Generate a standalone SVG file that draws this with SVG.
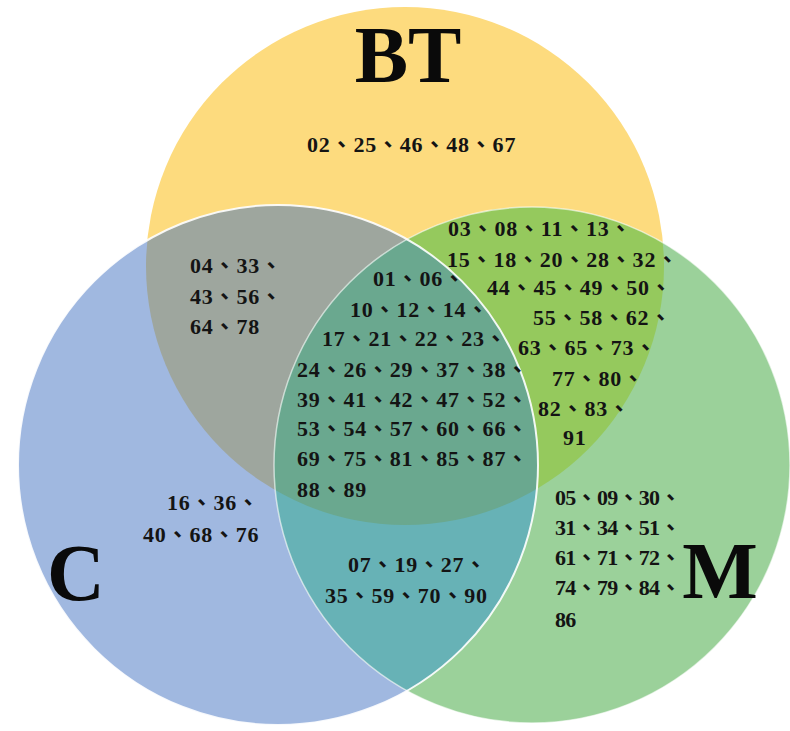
<svg xmlns="http://www.w3.org/2000/svg" width="790" height="731" viewBox="0 0 790 731">
<style>
.n{font-family:"Liberation Serif","Noto Sans CJK TC",serif;font-weight:bold;font-size:22px;letter-spacing:0.8px;fill:#141414}
.nm{letter-spacing:-0.7px}
.big{font-family:"Liberation Serif",serif;font-weight:bold;font-size:80px;fill:#0a0a0a;text-anchor:middle}
</style>
<defs>
<clipPath id="clipBT"><circle cx="405" cy="266" r="259"/></clipPath>
<clipPath id="clipC"><circle cx="278" cy="465" r="260"/></clipPath>
</defs>
<rect width="790" height="731" fill="#ffffff"/>
<g id="circle-BT"><circle cx="405" cy="266" r="259" fill="#FDDB7E"/></g>
<g id="circle-C"><circle cx="278" cy="465" r="260" fill="#A0B8E0"/></g>
<g id="circle-M"><circle cx="532" cy="465" r="258" fill="#9BD19A"/></g>
<g id="region-BT-C" clip-path="url(#clipBT)"><circle cx="278" cy="465" r="260" fill="#9EA69E"/></g>
<g id="region-BT-M" clip-path="url(#clipBT)"><circle cx="532" cy="465" r="258" fill="#95C95D"/></g>
<g id="region-C-M" clip-path="url(#clipC)"><circle cx="532" cy="465" r="258" fill="#67B2B6"/></g>
<g id="region-BT-C-M" clip-path="url(#clipBT)"><g clip-path="url(#clipC)"><circle cx="532" cy="465" r="258" fill="#6AA88F"/></g></g>
<g id="outlines" fill="none">
<circle cx="532" cy="465" r="258" stroke="#ffffff" stroke-opacity="0.6" stroke-width="1.5"/>
<circle cx="278" cy="465" r="260" stroke="#ffffff" stroke-opacity="0.9" stroke-width="2"/>
</g>
<g id="connectors"/>
<g id="labels">
<text class="big" x="408" y="82">BT</text>
<text class="big" x="76" y="600">C</text>
<text class="big" x="720" y="598">M</text>
</g>
<g id="text-BT">
<text class="n" x="307" y="152">02、25、46、48、67</text>
</g>
<g id="text-BT-C">
<text class="n" x="190" y="273">04、33、</text>
<text class="n" x="190" y="304">43、56、</text>
<text class="n" x="190" y="334">64、78</text>
</g>
<g id="text-BT-M">
<text class="n" x="448" y="236">03、08、11、13、</text>
<text class="n" x="447" y="267">15、18、20、28、32、</text>
<text class="n" x="487" y="295">44、45、49、50、</text>
<text class="n" x="533" y="325">55、58、62、</text>
<text class="n" x="518" y="355">63、65、73、</text>
<text class="n" x="552" y="386">77、80、</text>
<text class="n" x="538" y="416">82、83、</text>
<text class="n" x="563" y="445">91</text>
</g>
<g id="text-BT-C-M">
<text class="n" x="373" y="286">01、06、</text>
<text class="n" x="350" y="317">10、12、14、</text>
<text class="n" x="322" y="346">17、21、22、23、</text>
<text class="n" x="297" y="377">24、26、29、37、38、</text>
<text class="n" x="297" y="407">39、41、42、47、52、</text>
<text class="n" x="297" y="436">53、54、57、60、66、</text>
<text class="n" x="297" y="466">69、75、81、85、87、</text>
<text class="n" x="297" y="497">88、89</text>
</g>
<g id="text-C">
<text class="n" x="167" y="510">16、36、</text>
<text class="n" x="143" y="542">40、68、76</text>
</g>
<g id="text-C-M">
<text class="n" x="348" y="572">07、19、27、</text>
<text class="n" x="325" y="603">35、59、70、90</text>
</g>
<g id="text-M">
<text class="n nm" x="555" y="505">05、09、30、</text>
<text class="n nm" x="555" y="535">31、34、51、</text>
<text class="n nm" x="555" y="565">61、71、72、</text>
<text class="n nm" x="555" y="595">74、79、84、</text>
<text class="n nm" x="555" y="627">86</text>
</g>
</svg>
